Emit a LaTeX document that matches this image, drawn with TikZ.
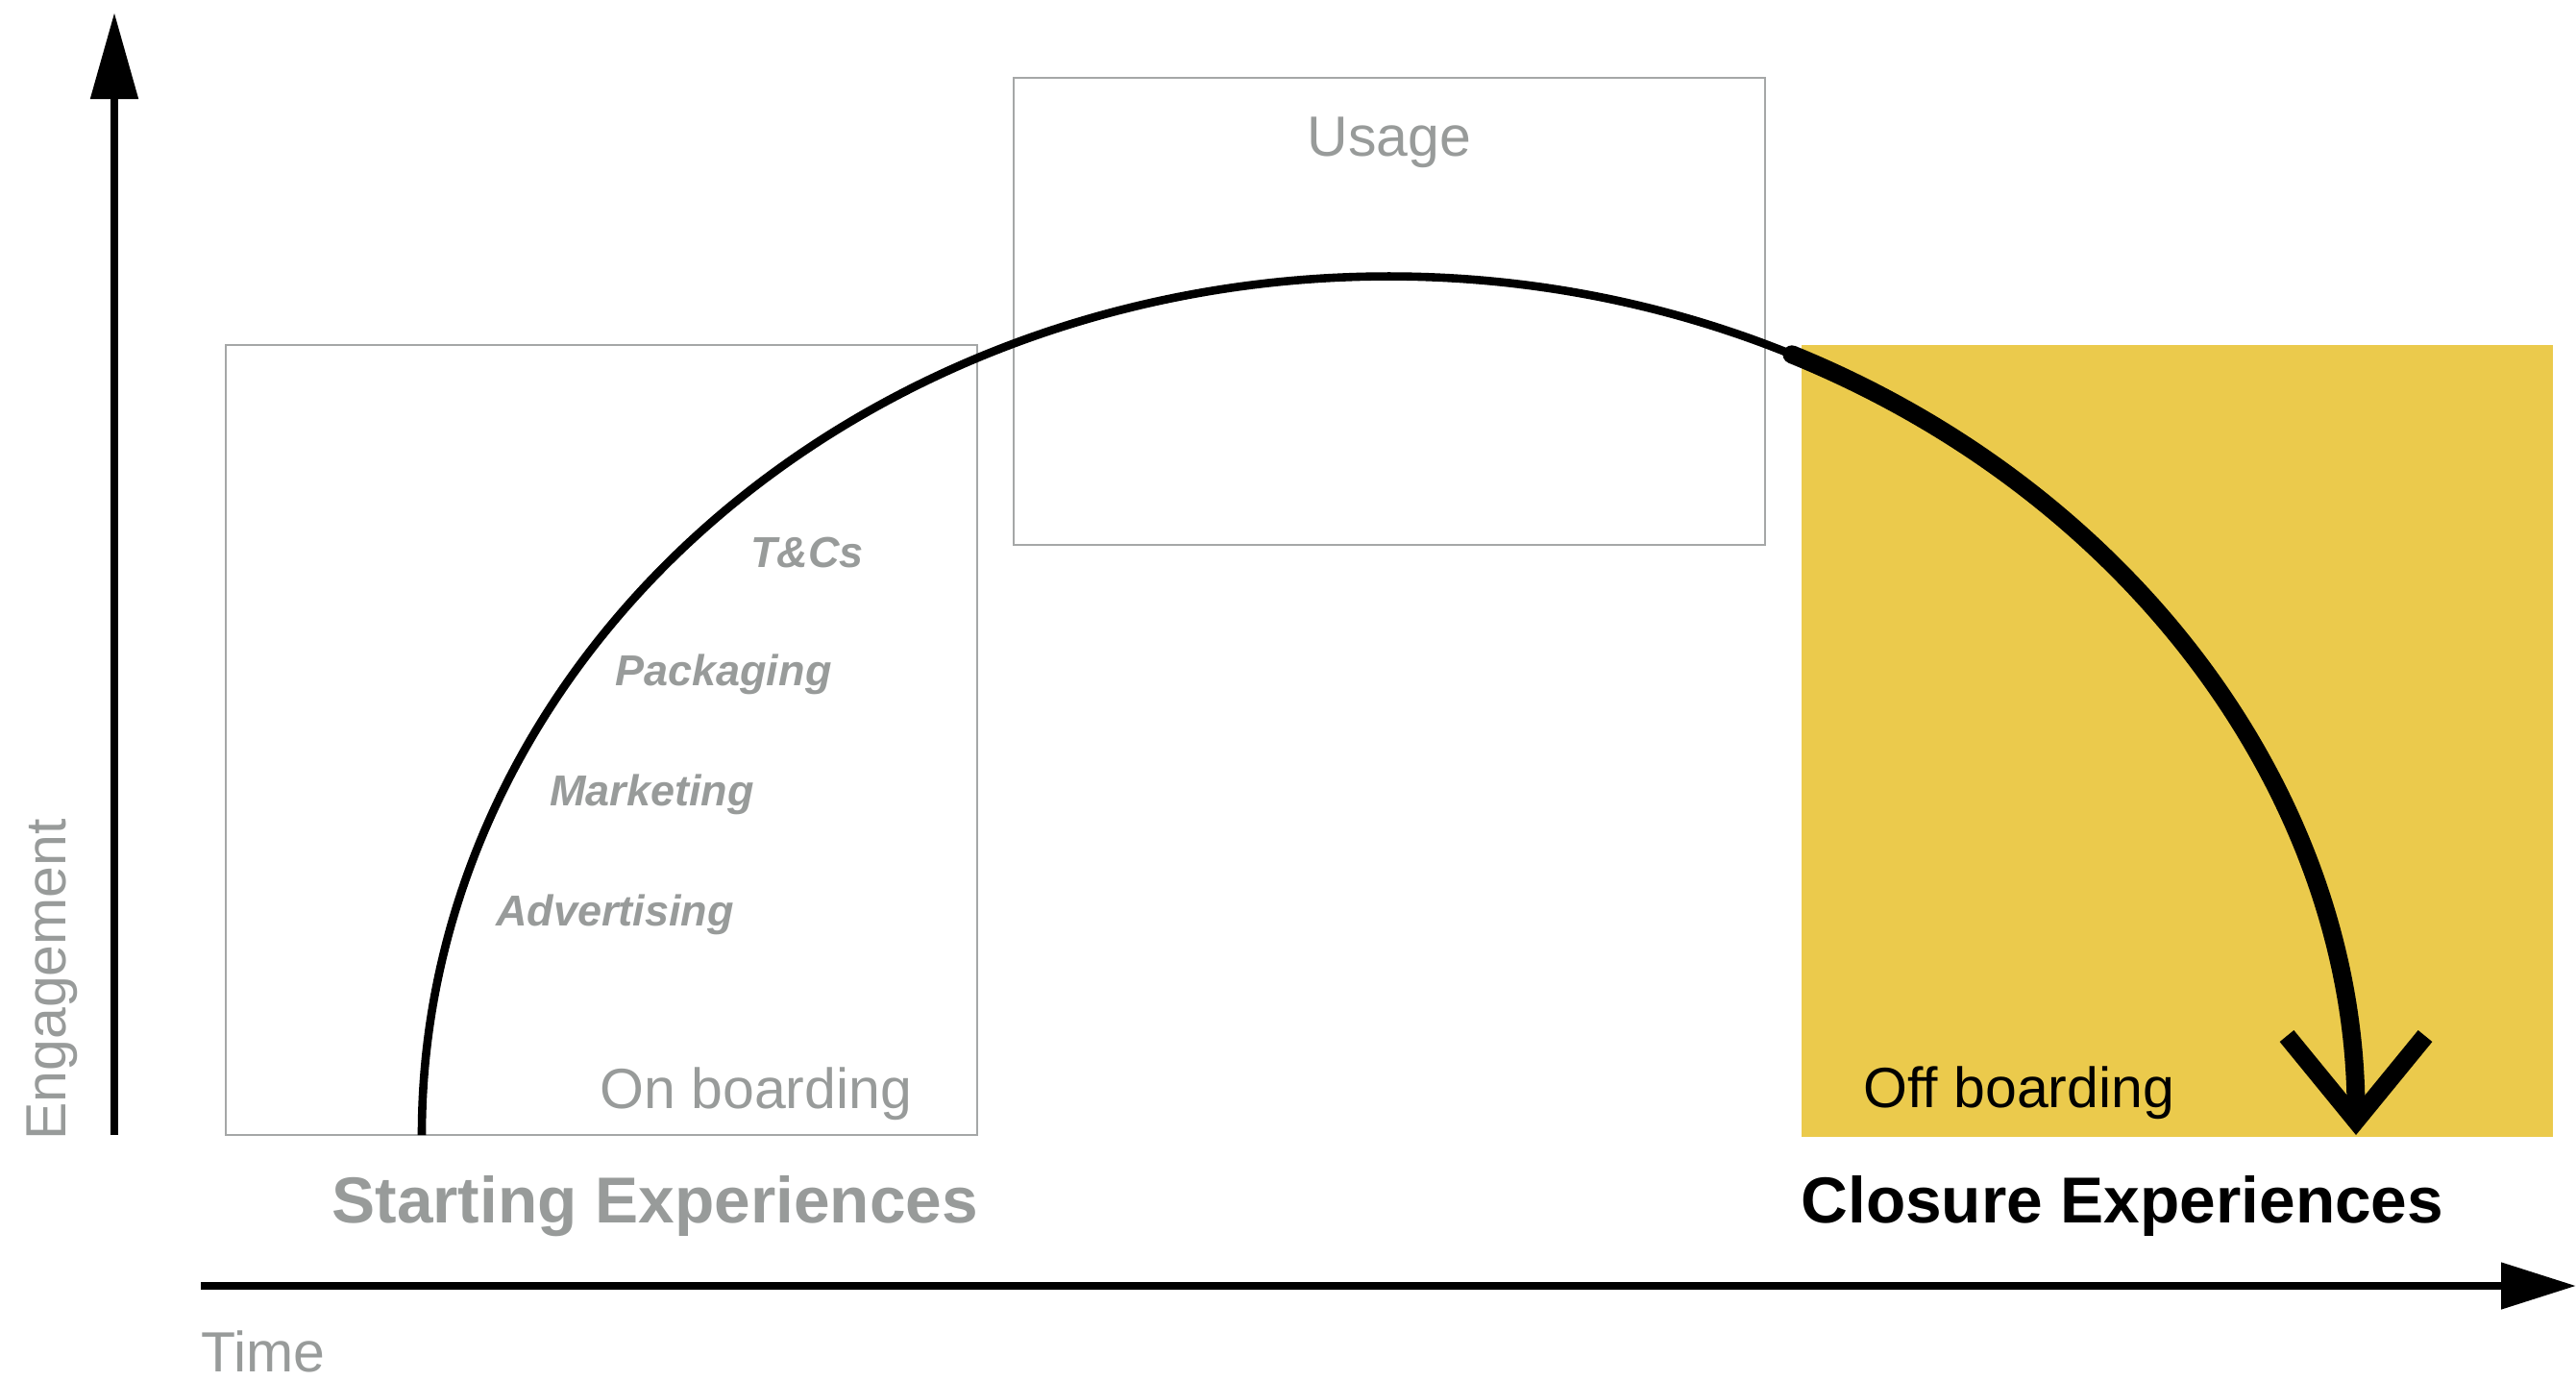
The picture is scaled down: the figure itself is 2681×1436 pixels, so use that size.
\documentclass[tikz,border=0pt]{standalone}
\usepackage{fontspec}
\setmainfont{Liberation Sans}
\usetikzlibrary{arrows.meta,fit}
\definecolor{txtgray}{RGB}{152,155,154}
\definecolor{boxgray}{RGB}{165,167,167}
\definecolor{offyellow}{RGB}{235,202,76}
\begin{document}
\begin{tikzpicture}[x=0.5pt,y=-0.5pt,
  axisline/.style={line width=4.2pt, black},
  phasebox/.style={draw=boxgray, line width=1.4pt, inner sep=0pt},
  offbox/.style={fill=offyellow, draw=none, inner sep=0pt},
  lbl/.style={inner sep=0pt, anchor=base west, font=\fontsize{29.5pt}{35pt}\selectfont},
  graylbl/.style={lbl, text=txtgray},
  headlbl/.style={inner sep=0pt, anchor=base west, font=\fontsize{33.8pt}{40pt}\selectfont\bfseries},
  touch/.style={inner sep=0pt, anchor=base west, text=txtgray, font=\fontsize{22.5pt}{27pt}\selectfont\bfseries\itshape},
  thincurve/.style={line width=4.3pt, black},
  thickcurve/.style={line width=9.5pt, black, line cap=round},
]
\useasboundingbox (0,0) rectangle (2681,1436);

% phase boxes
\node[offbox, fit={(1875,359) (2657,1183)}] (offbox) {};
\node[phasebox, fit={(235,359) (1017,1181)}] (onbox) {};
\node[phasebox, fit={(1055,81) (1837,567)}] (usebox) {};

% axes
\coordinate (yorig) at (119,1181);
\coordinate (ytip) at (119,13);
\draw[axisline, -{Triangle[length=45pt,width=24pt]}] (yorig) -- (ytip);
\coordinate (xorig) at (209,1338);
\coordinate (xtip) at (2681,1338);
\draw[line width=4pt, black, -{Triangle[length=39pt,width=23.5pt]}] (xorig) -- (xtip);

% engagement curve
\coordinate (cs) at (439,1181);
\draw[thincurve] (cs) arc[start angle=180, end angle=65.37, x radius=503.25pt, y radius=446.75pt] coordinate (cm);
\draw[thickcurve, -{Straight Barb[sharp, length=44pt, width=72pt]}] (cm) arc[start angle=65.37, end angle=0, x radius=503.25pt, y radius=446.75pt] coordinate (ce);

% labels
\node[graylbl] (usage) at (1360,162) {Usage};
\node[graylbl] (onlbl) at (624,1153) {On boarding};
\node[lbl] (offlbl) at (1939,1152) {Off boarding};
\node[headlbl, text=txtgray] (start) at (345,1272) {Starting Experiences};
\node[headlbl] (closure) at (1874,1272) {Closure Experiences};
\node[graylbl] (time) at (209,1427) {Time};
\node[graylbl, rotate=90] (eng) at (68,1187) {Engagement};

\node[touch] (tc) at (781,590) {T\&Cs};
\node[touch] (pack) at (640,713) {Packaging};
\node[touch] (mark) at (572,838) {Marketing};
\node[touch] (adv) at (516,963) {Advertising};
\end{tikzpicture}
\end{document}
